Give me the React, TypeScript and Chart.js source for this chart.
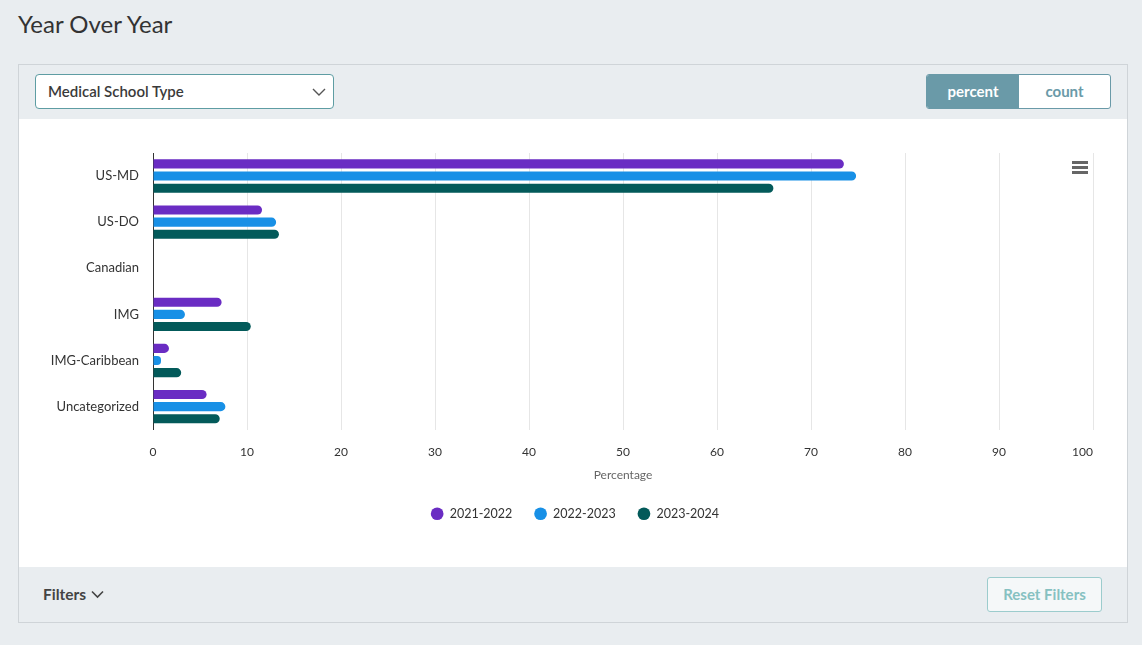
import React, { useEffect, useRef } from "react";
import { Chart, registerables } from "chart.js";

Chart.register(...registerables);

const categories = ["US-MD", "US-DO", "Canadian", "IMG", "IMG-Caribbean", "Uncategorized"];
const seriesNames = ["2021-2022", "2022-2023", "2023-2024"];
const values2021 = [73.5, 11.6, 0, 7.3, 1.7, 5.7];
const values2022 = [74.8, 13.1, 0, 3.4, 0.85, 7.7];
const values2023 = [66.0, 13.4, 0, 10.4, 3.0, 7.1];
const seriesColors = ["#6a2cc3", "#1890e6", "#035a5a"];
const xTicks = [0, 10, 20, 30, 40, 50, 60, 70, 80, 90, 100];
const xTitle = "Percentage";

const FONT = "Lato, 'Open Sans', sans-serif";

// Draws x tick labels and title (last label kept inside the plot, like the reference)
const xLabelsPlugin = {
  id: "xLabels",
  afterLayout(chart: any) {
    // nudge the legend so it is centred like the reference
    if (chart.legend) {
      chart.legend.left += 19;
      chart.legend.right += 19;
    }
  },
  afterDraw(chart: any) {
    const scale = chart.scales.x;
    const area = chart.chartArea;
    const ctx = chart.ctx;
    ctx.save();
    ctx.font = `12px ${FONT}`;
    ctx.fillStyle = "#333333";
    ctx.textBaseline = "middle";
    xTicks.forEach((v, i) => {
      const px = scale.getPixelForValue(v);
      ctx.textAlign = i === xTicks.length - 1 ? "right" : "center";
      ctx.fillText(String(v), px, area.bottom + 22);
    });
    ctx.fillStyle = "#666666";
    ctx.textAlign = "center";
    ctx.fillText(xTitle, (area.left + area.right) / 2, area.bottom + 45);
    ctx.restore();
  },
};

export default function App() {
  const canvasRef = useRef<HTMLCanvasElement | null>(null);

  useEffect(() => {
    document.body.style.margin = "0";
    const ctx = canvasRef.current;
    if (!ctx) return;
    const allValues = [values2021, values2022, values2023];
    const chart = new Chart(ctx, {
      type: "bar",
      data: {
        labels: categories,
        datasets: seriesNames.map((name, i) => ({
          label: name,
          data: allValues[i],
          backgroundColor: seriesColors[i],
          borderColor: seriesColors[i],
          borderWidth: 0,
          borderRadius: 5,
          borderSkipped: "start",
          categoryPercentage: 0.79,
          barPercentage: 0.75,
        })),
      },
      options: {
        indexAxis: "y",
        animation: false,
        responsive: false,
        maintainAspectRatio: false,
        layout: { padding: { top: 34, right: 34, bottom: 37, left: 0 } },
        scales: {
          x: {
            min: 0,
            max: 100,
            afterBuildTicks: (scale: any) => {
              scale.ticks = xTicks.map((v) => ({ value: v }));
            },
            grid: { color: "#e6e6e6", drawTicks: false },
            border: { display: false },
            ticks: { padding: 12, color: "rgba(0,0,0,0)", font: { family: FONT, size: 12 } },
            title: {
              display: true,
              text: xTitle,
              color: "rgba(0,0,0,0)",
              padding: { top: 3, bottom: 0 },
              font: { family: FONT, size: 12 },
            },
          },
          y: {
            afterFit: (scale: any) => {
              scale.width = 134;
            },
            grid: { display: false, drawTicks: false },
            border: { display: true, color: "#333333", width: 1 },
            ticks: { padding: 14, color: "#333333", font: { family: FONT, size: 13 } },
          },
        },
        plugins: {
          legend: {
            position: "bottom",
            labels: {
              usePointStyle: true,
              pointStyle: "circle",
              boxWidth: 13,
              boxHeight: 9,
              padding: 22,
              color: "#333333",
              font: { family: FONT, size: 12.5 },
            },
          },
          tooltip: { enabled: false },
        },
      },
      plugins: [xLabelsPlugin],
    } as any);
    return () => chart.destroy();
  }, []);

  return (
    <div
      style={{
        position: "relative",
        width: 1142,
        height: 645,
        background: "#e9edf0",
        fontFamily: FONT,
        overflow: "hidden",
      }}
    >
      <div
        style={{
          position: "absolute",
          left: 18,
          top: 8,
          fontSize: 24,
          color: "#333333",
          lineHeight: "32px",
        }}
      >
        Year Over Year
      </div>
      <div
        style={{
          position: "absolute",
          left: 18,
          top: 64,
          width: 1108,
          height: 557,
          border: "1px solid #cfd4d8",
          background: "#e9edf0",
        }}
      >
        <div
          style={{
            position: "absolute",
            left: 16,
            top: 9,
            width: 297,
            height: 33,
            background: "#ffffff",
            border: "1px solid #5e9da3",
            borderRadius: 4,
          }}
        >
          <div
            style={{
              position: "absolute",
              left: 12,
              top: 0,
              lineHeight: "33px",
              fontSize: 15,
              fontWeight: 600,
              color: "#3a3a3a",
            }}
          >
            Medical School Type
          </div>
          <svg style={{ position: "absolute", left: 276, top: 12 }} width="14" height="10">
            <polyline points="1,2 7,8 13,2" fill="none" stroke="#555" strokeWidth="1.4" />
          </svg>
        </div>
        <div
          style={{
            position: "absolute",
            left: 907,
            top: 9,
            width: 183,
            height: 33,
            border: "1px solid #6a9aa8",
            borderRadius: 3,
            background: "#ffffff",
            overflow: "hidden",
            display: "flex",
          }}
        >
          <div
            style={{
              width: 92,
              height: 33,
              background: "#6a9aa8",
              color: "#ffffff",
              fontWeight: 700,
              fontSize: 15,
              lineHeight: "33px",
              textAlign: "center",
            }}
          >
            percent
          </div>
          <div
            style={{
              width: 91,
              height: 33,
              color: "#6a9aa8",
              fontWeight: 700,
              fontSize: 15,
              lineHeight: "33px",
              textAlign: "center",
            }}
          >
            count
          </div>
        </div>
        <div
          style={{
            position: "absolute",
            left: 0,
            top: 54,
            width: 1108,
            height: 448,
            background: "#ffffff",
          }}
        >
          <canvas ref={canvasRef} width={1108} height={448} style={{ display: "block" }} />
          <div style={{ position: "absolute", left: 1053, top: 42, width: 16 }}>
            <div style={{ height: 3, background: "#666", marginBottom: 2 }} />
            <div style={{ height: 3, background: "#666", marginBottom: 2 }} />
            <div style={{ height: 3, background: "#666" }} />
          </div>
        </div>
        <div
          style={{
            position: "absolute",
            left: 24,
            top: 517,
            fontSize: 15.5,
            fontWeight: 700,
            color: "#444",
            lineHeight: "24px",
            display: "flex",
            alignItems: "center",
          }}
        >
          Filters
          <svg style={{ marginLeft: 5 }} width="13" height="9">
            <polyline points="1,1.5 6.5,7 12,1.5" fill="none" stroke="#444" strokeWidth="1.6" />
          </svg>
        </div>
        <div
          style={{
            position: "absolute",
            left: 968,
            top: 512,
            width: 113,
            height: 33,
            border: "1px solid #9ccccd",
            borderRadius: 3,
            background: "#f5f8f9",
            color: "#86c1c1",
            fontSize: 15,
            fontWeight: 700,
            lineHeight: "33px",
            textAlign: "center",
          }}
        >
          Reset Filters
        </div>
      </div>
    </div>
  );
}
